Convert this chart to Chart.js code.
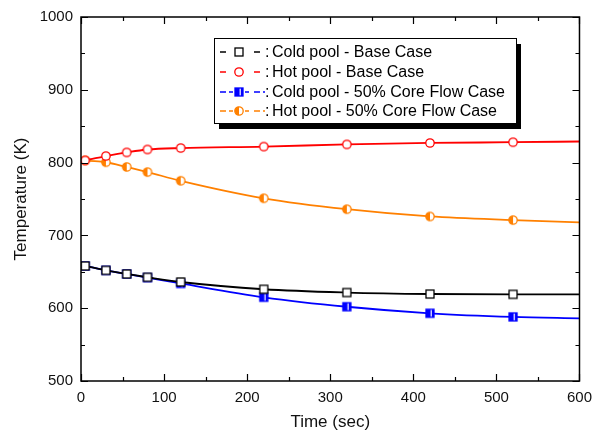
<!DOCTYPE html>
<html>
<head>
<meta charset="utf-8">
<script src="https://cdn.jsdelivr.net/npm/chart.js@4/dist/chart.umd.min.js"></script>
<style>
  html, body { margin: 0; padding: 0; background: #fff; }
  #wrap { width: 600px; height: 435px; }
</style>
</head>
<body>
<div id="wrap"><canvas id="c" width="600" height="435"></canvas></div>
<script>
// Sample times (sec); first and last entries carry the curve to the axis edges
const times = [0, 5, 30, 55, 80, 120, 220, 320, 420, 520, 600];

// Pool temperatures (K)
const coldBase = [659, 658, 652, 647, 642.5, 636, 626, 621.5, 619.5, 619, 619];
const hotBase  = [802, 803, 809, 814, 818, 820, 822, 825, 827, 828, 829];
const cold50   = [659, 658, 652, 647, 642, 634, 615, 602, 593, 588, 586];
const hot50    = [804, 803, 800.5, 794, 787, 775, 751, 736, 726, 721, 718];

const seriesLabels = [
  'Cold pool - Base Case',
  'Hot pool - Base Case',
  'Cold pool - 50% Core Flow Case',
  'Hot pool - 50% Core Flow Case'
];

const xTicks = [0, 100, 200, 300, 400, 500, 600];
const yTicks = [500, 600, 700, 800, 900, 1000];

const BLACK = '#000000', RED = '#ff0000', BLUE = '#0000ff', ORANGE = '#ff8000';
const FONT = '"Liberation Sans", Arial, sans-serif';

// Marker glyphs
function makeMarker(kind, color) {
  const s = 12;
  const cv = document.createElement('canvas');
  cv.width = s; cv.height = s;
  const g = cv.getContext('2d');
  const c = s / 2;
  g.lineWidth = 1.3;
  g.strokeStyle = color;
  if (kind === 'square' || kind === 'halfSquare') {
    const h = 4;
    g.fillStyle = '#fff';
    g.fillRect(c - h, c - h, 2 * h, 2 * h);
    if (kind === 'halfSquare') {
      g.fillStyle = color;
      g.fillRect(c - h, c - h, h * 1.15, 2 * h);
      g.fillRect(c + h * 0.45, c - h, h * 0.55, 2 * h);
    }
    g.strokeRect(c - h, c - h, 2 * h, 2 * h);
  } else {
    const r = 4.2;
    g.beginPath(); g.arc(c, c, r, 0, Math.PI * 2);
    g.fillStyle = '#fff'; g.fill();
    if (kind === 'halfCircle') {
      g.beginPath(); g.arc(c, c, r, Math.PI / 2, Math.PI * 1.5);
      g.closePath(); g.fillStyle = color; g.fill();
    }
    g.beginPath(); g.arc(c, c, r, 0, Math.PI * 2); g.stroke();
  }
  return cv;
}

const markers = [
  makeMarker('square', BLACK),
  makeMarker('circle', RED),
  makeMarker('halfSquare', BLUE),
  makeMarker('halfCircle', ORANGE)
];
const colors = [BLACK, RED, BLUE, ORANGE];
const values = [coldBase, hotBase, cold50, hot50];
const radii = times.map((t, i) => (i === 0 || i === times.length - 1) ? 0 : 4);

// Frame with inward major/minor ticks on all four sides
const framePlugin = {
  id: 'frame',
  afterDatasetsDraw(chart) {
    const { ctx, chartArea: a, scales } = chart;
    const x = scales.x, y = scales.y;
    ctx.save();
    ctx.strokeStyle = '#000';
    ctx.lineWidth = 1.5;
    ctx.strokeRect(a.left, a.top, a.right - a.left, a.bottom - a.top);
    ctx.lineWidth = 1.2;
    ctx.beginPath();
    for (let v = 0; v <= 600; v += 50) {
      const px = Math.round(x.getPixelForValue(v)) + 0.5;
      const len = v % 100 === 0 ? 7 : 4;
      ctx.moveTo(px, a.bottom); ctx.lineTo(px, a.bottom - len);
      ctx.moveTo(px, a.top); ctx.lineTo(px, a.top + len);
    }
    for (let v = 500; v <= 1000; v += 50) {
      const py = Math.round(y.getPixelForValue(v)) + 0.5;
      const len = v % 100 === 0 ? 7 : 4;
      ctx.moveTo(a.left, py); ctx.lineTo(a.left + len, py);
      ctx.moveTo(a.right, py); ctx.lineTo(a.right - len, py);
    }
    ctx.stroke();
    ctx.restore();
  }
};

// Boxed legend with drop shadow and dashed line samples
const legendPlugin = {
  id: 'boxLegend',
  afterDraw(chart) {
    const ctx = chart.ctx;
    const bx = 214, by = 38, bw = 302, bh = 85;
    ctx.save();
    ctx.fillStyle = '#000';
    ctx.fillRect(bx + 5, by + 6, bw, bh);
    ctx.fillStyle = '#fff';
    ctx.fillRect(bx, by, bw, bh);
    ctx.strokeStyle = '#000';
    ctx.lineWidth = 1;
    ctx.strokeRect(bx + 0.5, by + 0.5, bw, bh);
    ctx.font = '16px ' + FONT;
    ctx.textBaseline = 'middle';
    const rows = [52, 72, 92, 111];
    seriesLabels.forEach((lab, i) => {
      const yy = rows[i];
      ctx.strokeStyle = colors[i];
      ctx.lineWidth = 1.6;
      ctx.beginPath();
      ctx.moveTo(220, yy); ctx.lineTo(226, yy);
      ctx.moveTo(254, yy); ctx.lineTo(260, yy);
      if (i >= 2) {
        ctx.moveTo(229, yy); ctx.lineTo(233, yy);
        ctx.moveTo(245, yy); ctx.lineTo(249, yy);
        ctx.moveTo(263, yy); ctx.lineTo(265, yy);
      }
      ctx.stroke();
      ctx.drawImage(markers[i], 239 - 6, yy - 6);
      ctx.fillStyle = '#000';
      ctx.textAlign = 'left';
      ctx.fillText(':', 265, yy + 1);
      ctx.fillText(lab, 272, yy + 1);
    });
    ctx.restore();
  }
};

new Chart(document.getElementById('c'), {
  type: 'line',
  data: {
    labels: times,
    datasets: values.map((vals, i) => ({
      label: seriesLabels[i],
      data: times.map((t, k) => ({ x: t, y: vals[k] })),
      borderColor: colors[i],
      borderWidth: 1.8,
      pointStyle: markers[i],
      pointRadius: radii,
      pointHoverRadius: radii,
      cubicInterpolationMode: 'monotone',
      fill: false
    }))
  },
  options: {
    responsive: false,
    animation: false,
    events: [],
    layout: { padding: { left: 0, top: 15, right: 20, bottom: 0 } },
    plugins: { legend: { display: false }, tooltip: { enabled: false } },
    scales: {
      x: {
        type: 'linear', min: 0, max: 600,
        afterBuildTicks(s) { s.ticks = xTicks.map(v => ({ value: v })); },
        afterFit(s) { s.height = 54; },
        grid: { display: false, drawTicks: false },
        border: { display: false },
        ticks: { color: '#111', padding: 8, maxRotation: 0,
          callback: v => String(v),
          font: { family: FONT, size: 15 } },
        title: { display: true, text: 'Time (sec)', color: '#111',
          padding: { top: 0, bottom: 2 },
          font: { family: FONT, size: 17 } }
      },
      y: {
        type: 'linear', min: 500, max: 1000,
        afterBuildTicks(s) { s.ticks = yTicks.map(v => ({ value: v })); },
        afterFit(s) { s.width = 81; },
        grid: { display: false, drawTicks: false },
        border: { display: false },
        ticks: { color: '#111', padding: 8,
          callback: v => String(v),
          font: { family: FONT, size: 15 } },
        title: { display: true, text: 'Temperature (K)', color: '#111',
          padding: { top: 11, bottom: 0 },
          font: { family: FONT, size: 17 } }
      }
    }
  },
  plugins: [framePlugin, legendPlugin]
});
</script>
</body>
</html>
